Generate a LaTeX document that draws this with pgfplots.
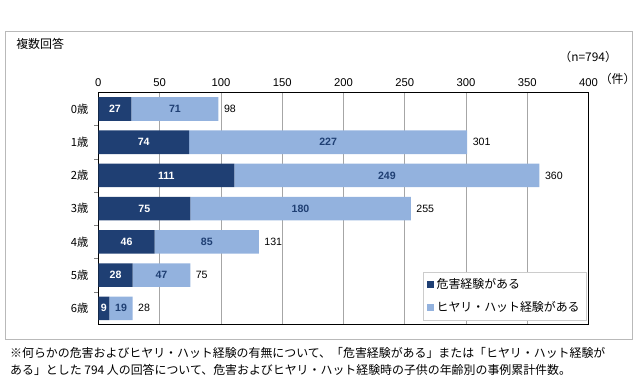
\documentclass[border=0pt]{standalone}
\usepackage{pgfplots}
\pgfplotsset{compat=1.18}
\usepackage{pgfplotstable}
\usepackage{fontspec}
\setmainfont{Noto Sans CJK JP}
\newfontfamily\numfont{Liberation Sans}
\definecolor{darkbar}{RGB}{31,63,115}
\definecolor{lightbar}{RGB}{147,178,222}
\pgfplotstableread{
y a b total
0 27 71 98
1 74 227 301
2 111 249 360
3 75 180 255
4 46 85 131
5 28 47 75
6 9 19 28
}\data
\begin{document}
\begin{tikzpicture}[x=1pt,y=1pt]
\path (-74.25,-36) rectangle (405.75,245.25);
\draw[gray!55, line width=0.6pt] (-70.5,-11.25) rectangle (402.75,221.25);
\node[anchor=west, font=\fontsize{9}{10}\selectfont] at (-65.5,212) {複数回答};
\node[anchor=east, font=\fontsize{9}{10}\selectfont] at (395,202.5) {（n=794）};
\node[anchor=west, font=\fontsize{9}{10}\selectfont] at (375,185.5) {（件）};
\node[anchor=west, font=\fontsize{9}{10}\selectfont, inner sep=0pt] at (-66.75,-21) {※何らかの危害およびヒヤリ・ハット経験の有無について、「危害経験がある」または「ヒヤリ・ハット経験が};
\node[anchor=west, font=\fontsize{9}{10}\selectfont, inner sep=0pt] at (-66.75,-34) {ある」とした 794 人の回答について、危害およびヒヤリ・ハット経験時の子供の年齢別の事例累計件数。};
\begin{axis}[
  at={(0,0)}, anchor=south west,
  scale only axis, width=370pt, height=175.5pt,
  xbar stacked, bar width=17.8pt,
  xmin=0, xmax=400, ymin=-0.5, ymax=6.5, y dir=reverse,
  xtick={0,50,...,400}, xticklabel pos=top, xtick pos=top,
  ytick={0,...,6}, yticklabels={0歳,1歳,2歳,3歳,4歳,5歳,6歳},
  ytick pos=left,
  minor ytick={0.5,1.5,...,5.5},
  major tick length=0pt,
  minor tick length=3pt,
  tick align=outside,
  minor tick style={gray},
  xmajorgrids, grid style={gray!70, line width=0.6pt},
  axis line style={black, line width=0.8pt},
  /pgf/number format/assume math mode=true,
  tick label style={font=\numfont\fontsize{8.5}{10}\selectfont},
  yticklabel style={font=\fontsize{8.5}{10}\selectfont, xshift=-4pt},
  xticklabel style={yshift=1pt},
  legend style={at={(0.996,0.02)}, anchor=south east, draw=gray!40, font=\fontsize{9}{11}\selectfont, row sep=4pt, inner sep=3pt},
  legend image code/.code={\fill (0pt,-2.6pt) rectangle (5.2pt,2.6pt);},
  legend cell align=left,
]
\addplot[fill=darkbar, draw=none] table[x=a, y=y] {\data};
\addplot[fill=lightbar, draw=none] table[x=b, y=y] {\data};
\legend{危害経験がある,ヒヤリ・ハット経験がある}
\end{axis}
\begin{axis}[
  at={(0,0)}, anchor=south west,
  scale only axis, width=370pt, height=175.5pt,
  xmin=0, xmax=400, ymin=-0.5, ymax=6.5, y dir=reverse,
  hide axis, clip=false,
  nodes near coords, point meta=explicit,
  /pgf/number format/assume math mode=true,
]
\addplot[draw=none, mark=none, nodes near coords style={font=\numfont\bfseries\fontsize{8}{10}\selectfont, text=white, anchor=center, inner sep=0pt}]
  table[x expr=\thisrow{a}/2, y=y, meta=a] {\data};
\addplot[draw=none, mark=none, nodes near coords style={font=\numfont\bfseries\fontsize{8}{10}\selectfont, text=darkbar, anchor=center, inner sep=0pt}]
  table[x expr=\thisrow{a}+\thisrow{b}/2, y=y, meta=b] {\data};
\addplot[draw=none, mark=none, nodes near coords style={font=\numfont\fontsize{8}{10}\selectfont, text=black, anchor=west, xshift=4pt, inner sep=0pt}]
  table[x=total, y=y, meta=total] {\data};
\end{axis}
\end{tikzpicture}
\end{document}
